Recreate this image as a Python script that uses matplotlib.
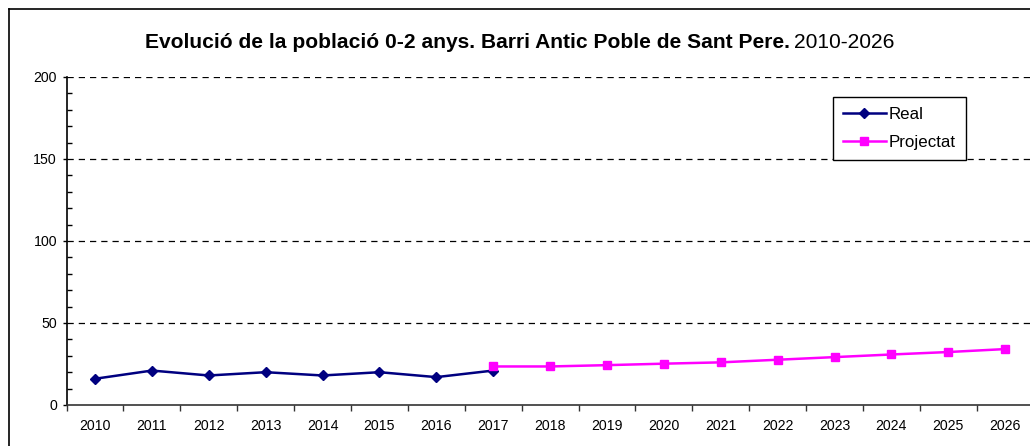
import matplotlib
matplotlib.use("Agg")
import matplotlib.pyplot as plt
from matplotlib.ticker import MultipleLocator
from matplotlib.lines import Line2D

plt.rcParams['font.family'] = ['Liberation Sans', 'DejaVu Sans']

years = ['2010', '2011', '2012', '2013', '2014', '2015', '2016', '2017', '2018',
         '2019', '2020', '2021', '2022', '2023', '2024', '2025', '2026']
real_years = years[:8]
real_values = [16, 21, 18, 20, 18, 20, 17, 21]
proj_years = years[7:]
proj_values = [23.5, 23.5, 24.3, 25.2, 26, 27.6, 29.2, 30.8, 32.3, 34.1]

W, H = 1030, 446
fig = plt.figure(figsize=(W / 100, H / 100), dpi=100)

# outer frame
fig.add_artist(plt.Line2D([9 / W, 9 / W], [0, 1 - 9 / H], color='black', lw=1.2,
                          transform=fig.transFigure))
fig.add_artist(plt.Line2D([9 / W, 1], [1 - 9 / H, 1 - 9 / H], color='black', lw=1.2,
                          transform=fig.transFigure))

left, right, bottom, top = 66.6, 1033.6, 405, 77
ax = fig.add_axes([left / W, 1 - bottom / H, (right - left) / W, (bottom - top) / H])

xi = {y: i for i, y in enumerate(years)}
ax.plot([xi[y] for y in real_years], real_values, color='#000080', lw=1.8,
        marker='D', markersize=5.5, label='Real', zorder=3)
ax.plot([xi[y] for y in proj_years], proj_values, color='#FF00FF', lw=1.8,
        marker='s', markersize=6, label='Projectat', zorder=3)

ax.set_xlim(-0.5, len(years) - 0.5)
ax.set_ylim(0, 200)
ax.set_xticks(range(len(years)))
ax.set_xticklabels(years, fontsize=10.2)
ax.set_xticks([i + 0.5 for i in range(-1, len(years))], minor=True)
ax.tick_params(axis='x', which='major', length=0, pad=10)
ax.tick_params(axis='x', which='minor', length=4, direction='out', width=1, color='#333333')

ax.set_yticks([0, 50, 100, 150, 200])
ax.set_yticklabels(['0', '50', '100', '150', '200'], fontsize=10.2)
ax.yaxis.set_minor_locator(MultipleLocator(10))
ax.tick_params(axis='y', which='major', length=3, direction='out', width=1, pad=4)
ax.tick_params(axis='y', which='minor', length=3.5, direction='in', width=1)

for v in [50, 100, 150, 200]:
    ax.axhline(v, color='black', lw=0.9, ls=(0, (5, 4)), zorder=1)

for s in ['top', 'right']:
    ax.spines[s].set_visible(False)
ax.spines['left'].set_linewidth(1.2)
ax.spines['bottom'].set_linewidth(1.2)
ax.spines['bottom'].set_color('#333333')

handles = [Line2D([], [], color='#000080', lw=1.8, marker='D', markersize=5),
           Line2D([], [], color='#FF00FF', lw=1.8, marker='s', markersize=5.5)]
leg = fig.legend(handles, ['Real', 'Projectat'], loc='upper left',
                 bbox_to_anchor=(833 / W, 1 - 97 / H), fontsize=12.2,
                 frameon=True, fancybox=False, edgecolor='black',
                 handlelength=2.5, handletextpad=0.2, borderpad=0.6,
                 labelspacing=0.75, borderaxespad=0)
leg.get_frame().set_linewidth(1.0)
leg.get_frame().set_alpha(1)

# title: bold part + normal part
t1 = fig.text(145 / W, 1 - 42 / H, 'Evolució de la població 0-2 anys. Barri Antic Poble de Sant Pere.',
              fontsize=15.1, fontweight='bold', ha='left', va='center')
fig.canvas.draw()
bb = t1.get_window_extent()
fig.text((bb.x1 + 4) / W, 1 - 42 / H, '2010-2026', fontsize=15.1, ha='left', va='center')

fig.savefig('out.png', dpi=100)
